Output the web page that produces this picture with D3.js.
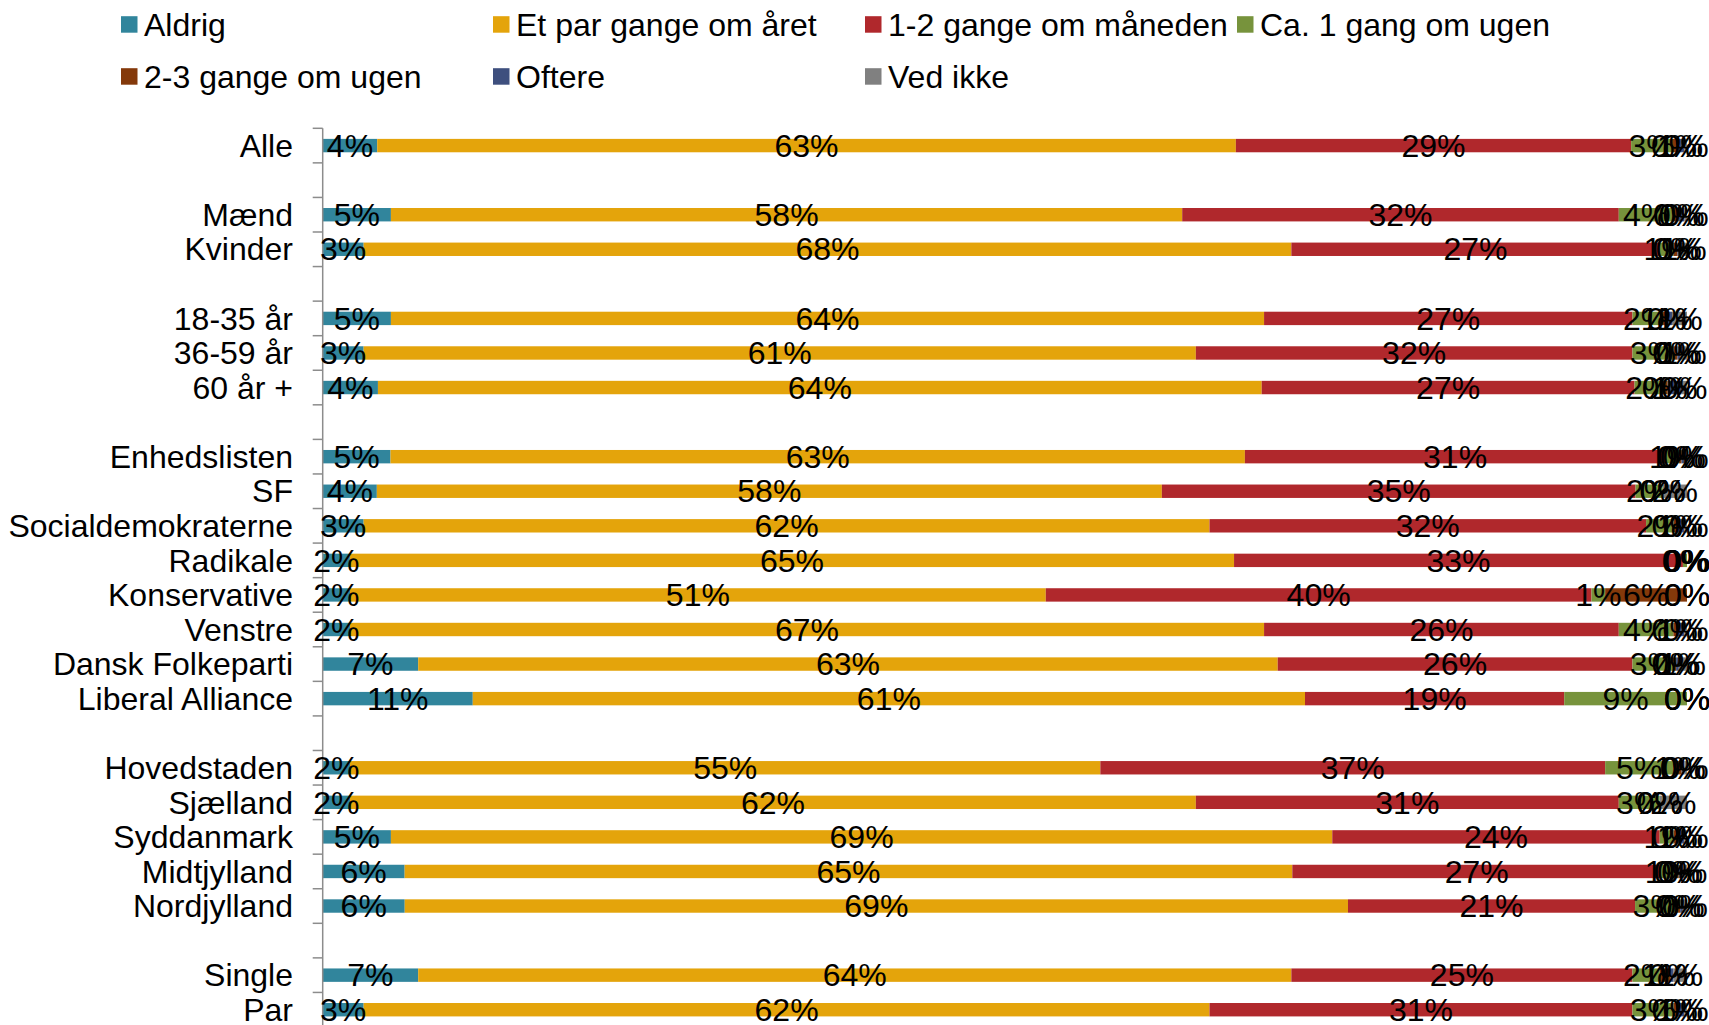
<!DOCTYPE html>
<html>
<head>
<meta charset="utf-8">
<script src="https://cdn.jsdelivr.net/npm/d3@7"></script>
<style>
body { margin: 0; background: #fff; }
text { font-family: "Liberation Sans", Arial, sans-serif; fill: #000; }
</style>
</head>
<body>
<script>
// rows of the chart, "" = empty spacer row
var categories = ["Alle", "", "Mænd", "Kvinder", "", "18-35 år", "36-59 år", "60 år +", "",
  "Enhedslisten", "SF", "Socialdemokraterne", "Radikale", "Konservative", "Venstre",
  "Dansk Folkeparti", "Liberal Alliance", "", "Hovedstaden", "Sjælland", "Syddanmark",
  "Midtjylland", "Nordjylland", "", "Single", "Par"];

var seriesNames = ["Aldrig", "Et par gange om året", "1-2 gange om måneden", "Ca. 1 gang om ugen",
  "2-3 gange om ugen", "Oftere", "Ved ikke"];

// percentages per row (null on spacer rows)
var aldrig  = [4, null, 5, 3, null, 5, 3, 4, null, 5, 4, 3, 2, 2, 2, 7, 11, null, 2, 2, 5, 6, 6, null, 7, 3];
var etPar   = [63, null, 58, 68, null, 64, 61, 64, null, 63, 58, 62, 65, 51, 67, 63, 61, null, 55, 62, 69, 65, 69, null, 64, 62];
var maaned  = [29, null, 32, 27, null, 27, 32, 27, null, 31, 35, 32, 33, 40, 26, 26, 19, null, 37, 31, 24, 27, 21, null, 25, 31];
var ugen1   = [3, null, 4, 1, null, 2, 3, 2, null, 1, 2, 2, 0.3, 1, 4, 3, 9, null, 5, 3, 1, 1, 3, null, 2, 3];
var ugen23  = [0.3, null, 0.4, 0.3, null, 0.6, 0.3, 0.4, null, 0.2, 0, 0.2, 0, 6, 0.2, 0.2, 0, null, 0.6, 0, 0.2, 0.3, 0.3, null, 0.8, 0.2];
var oftere  = [0.6, null, 0.4, 0.2, null, 0.3, 0.2, 1, null, 0.2, 0, 0.6, 0, 0, 0.6, 0.2, 0, null, 0.2, 0, 0.6, 0.2, 0.2, null, 0.2, 0.6];
var vedIkke = [0.2, null, 0.2, 0.5, null, 1.1, 0.5, 0.4, null, 0.2, 1.8, 0.2, 0, 0, 0.2, 0.6, 0, null, 0.2, 2, 0.2, 0.4, 0.3, null, 1, 0.2];

var seriesValues = [aldrig, etPar, maaned, ugen1, ugen23, oftere, vedIkke];
var colors = ["#31859C", "#E4A40B", "#B0282C", "#77933C", "#84390A", "#3E4F7E", "#808080"];

var width = 1709, height = 1025;
var fontSize = "32px";
var svg = d3.select("body").append("svg").attr("width", width).attr("height", height);

var x = d3.scaleLinear().domain([0, 1]).range([322.7, 1687]);
var y = d3.scaleBand().domain(d3.range(categories.length)).range([128.3, 1027]).padding(0);
var barH = 13.4;
var fmt = d3.format(".0f");

// build rows, skip spacers
var rows = [];
categories.forEach(function(c, i) {
  if (c === "") return;
  var r = { idx: i, cat: c };
  seriesNames.forEach(function(s, k) { r[s] = seriesValues[k][i]; });
  rows.push(r);
});

var stacked = d3.stack().keys(seriesNames).offset(d3.stackOffsetExpand)(rows);

// bars
var layers = svg.append("g").selectAll("g")
  .data(stacked)
  .enter().append("g")
    .attr("fill", function(d, i) { return colors[i]; });

layers.selectAll("rect")
  .data(function(d) { return d; })
  .enter().append("rect")
    .attr("x", function(d) { return x(d[0]); })
    .attr("width", function(d) { return Math.max(0, x(d[1]) - x(d[0])); })
    .attr("y", function(d) { return y(d.data.idx) + y.bandwidth() / 2 - barH / 2; })
    .attr("height", barH);

// y axis: line + ticks at row boundaries
var axis = svg.append("g").attr("stroke", "#8C8C8C").attr("stroke-width", 1.5);
axis.append("line")
  .attr("x1", x(0)).attr("x2", x(0))
  .attr("y1", y.range()[0]).attr("y2", y.range()[1]);
var bounds = d3.range(categories.length).map(function(i) { return y(i); });
bounds.push(y.range()[1]);
axis.selectAll(".tick")
  .data(bounds)
  .enter().append("line")
    .attr("x1", x(0) - 10).attr("x2", x(0))
    .attr("y1", function(d) { return d; }).attr("y2", function(d) { return d; });

// category labels
svg.append("g").selectAll("text")
  .data(rows)
  .enter().append("text")
    .attr("x", 293)
    .attr("y", function(d) { return y(d.idx) + y.bandwidth() / 2; })
    .attr("dy", "0.35em")
    .attr("text-anchor", "end")
    .style("font-size", fontSize)
    .text(function(d) { return d.cat; });

// data labels
stacked.forEach(function(layer) {
  svg.append("g").selectAll("text")
    .data(layer)
    .enter().append("text")
      .attr("x", function(d) { return x((d[0] + d[1]) / 2); })
      .attr("y", function(d) { return y(d.data.idx) + y.bandwidth() / 2; })
      .attr("dy", "0.35em")
      .attr("text-anchor", "middle")
      .style("font-size", fontSize)
      .text(function(d) { return fmt(d.data[layer.key]) + "%"; });
});

// legend
var legend = svg.append("g").selectAll("g")
  .data(seriesNames)
  .enter().append("g")
    .attr("transform", function(d, i) {
      return "translate(" + (121 + (i % 4) * 372) + "," + (24.5 + Math.floor(i / 4) * 52) + ")";
    });
legend.append("rect")
  .attr("x", 0).attr("y", -8.3)
  .attr("width", 16.5).attr("height", 16.5)
  .attr("fill", function(d, i) { return colors[i]; });
legend.append("text")
  .attr("x", 23)
  .attr("dy", "0.35em")
  .style("font-size", fontSize)
  .text(function(d) { return d; });
</script>
</body>
</html>
